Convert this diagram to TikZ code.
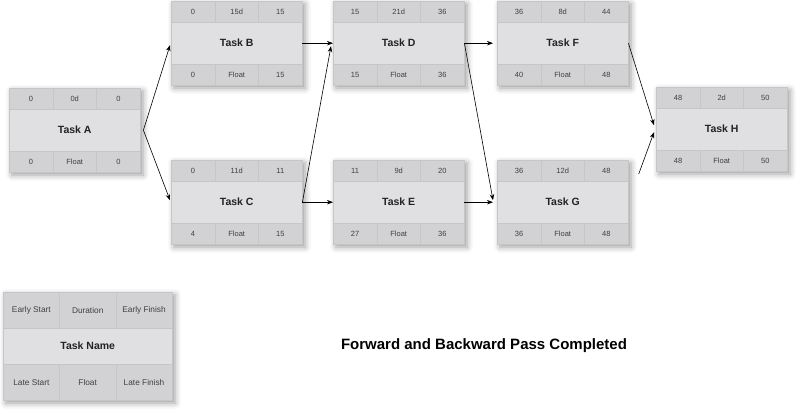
\documentclass[tikz,border=0pt]{standalone}
\usepackage{fontspec}
\setmainfont{Liberation Sans}
\usetikzlibrary{arrows.meta,calc,shadows.blur}
\definecolor{cellgray}{HTML}{D2D2D5}
\definecolor{midgray}{HTML}{E0E0E2}
\definecolor{edgegray}{HTML}{C6C6C9}
\definecolor{txtgray}{HTML}{404040}
\definecolor{namegray}{HTML}{222222}
\tikzset{
  boxbg/.style={fill=midgray, blur shadow={shadow xshift=3pt, shadow yshift=-3pt, shadow blur radius=6pt, shadow opacity=40}},
  cell/.style={draw=edgegray, line width=0.4pt, fill=cellgray, minimum height=21pt, minimum width=43.67pt, inner sep=0pt, text=txtgray, font=\fontsize{7.5}{9}\selectfont, anchor=north west},
  midcell/.style={draw=edgegray, line width=0.4pt, fill=midgray, minimum height=42pt, minimum width=131pt, inner sep=0pt, text=namegray, font=\fontsize{10.5}{12}\selectfont\bfseries, anchor=north west},
  lcell/.style={cell, minimum width=56.33pt, minimum height=36pt, font=\fontsize{8.3}{10}\selectfont},
  lmid/.style={midcell, minimum width=169pt, minimum height=36pt},
  arr/.style={-{Stealth[length=6pt,width=4.5pt]}, line width=0.6pt, black},
  title/.style={font=\fontsize{15}{18}\selectfont\bfseries, text=black}
}
\newcommand{\taskbox}[9]{%
  \path[boxbg] (#2,#3) rectangle ++(131,84);
  \node[cell] (#1es) at (#2,#3) {#4};
  \node[cell] (#1du) at ({#2+43.67},#3) {#5};
  \node[cell] (#1ef) at ({#2+87.33},#3) {#6};
  \node[midcell] (#1) at (#2,{#3+21}) {#9};
  \node[cell] (#1ls) at (#2,{#3+63}) {#7};
  \node[cell] (#1fl) at ({#2+43.67},{#3+63}) {Float};
  \node[cell] (#1lf) at ({#2+87.33},{#3+63}) {#8};
}
\begin{document}
\begin{tikzpicture}[x=1pt,y=-1pt]
\useasboundingbox (0,0) rectangle (800,415);
\taskbox{A}{9}{88}{0}{0d}{0}{0}{0}{Task A}
\taskbox{B}{171}{1}{0}{15d}{15}{0}{15}{Task B}
\taskbox{C}{171}{160}{0}{11d}{11}{4}{15}{Task C}
\taskbox{D}{333}{1}{15}{21d}{36}{15}{36}{Task D}
\taskbox{E}{333}{160}{11}{9d}{20}{27}{36}{Task E}
\taskbox{F}{497}{1}{36}{8d}{44}{40}{48}{Task F}
\taskbox{G}{497}{160}{36}{12d}{48}{36}{48}{Task G}
\taskbox{H}{656}{87}{48}{2d}{50}{48}{50}{Task H}
% legend
\path[boxbg] (3,292) rectangle ++(169,108);
\node[lcell] (les) at (3,292) {Early Start};
\node[lcell] (ldu) at (59.33,292) {Duration};
\node[lcell] (lef) at (115.67,292) {Early Finish};
\node[lmid] (lname) at (3,328) {Task Name};
\node[lcell] (lls) at (3,364) {Late Start};
\node[lcell] (lfl) at (59.33,364) {Float};
\node[lcell] (llf) at (115.67,364) {Late Finish};
% title
\node[title] (ttl) at (484,346) {Forward and Backward Pass Completed};
% connectors
\draw[arr] ($(A.east)+(3,0)$) -- ($(B.west)+(-1,2)$);
\draw[arr] ($(A.east)+(3,0)$) -- ($(C.west)+(-1,-2)$);
\draw[arr] (B.east) -- (D.west);
\draw[arr] (C.east) -- ($(D.west)+(-2,3)$);
\draw[arr] (C.east) -- (E.west);
\draw[arr] (D.east) -- ($(F.west)+(-4,0)$);
\draw[arr] (D.east) -- ($(G.west)+(-4,-2)$);
\draw[arr] (E.east) -- ($(G.west)+(-4,0)$);
\draw[arr] (F.east) -- ($(H.west)+(-2,-4)$);
\draw[arr, shorten <=30pt] (G.east) -- ($(H.west)+(-2,3)$);
\end{tikzpicture}
\end{document}
